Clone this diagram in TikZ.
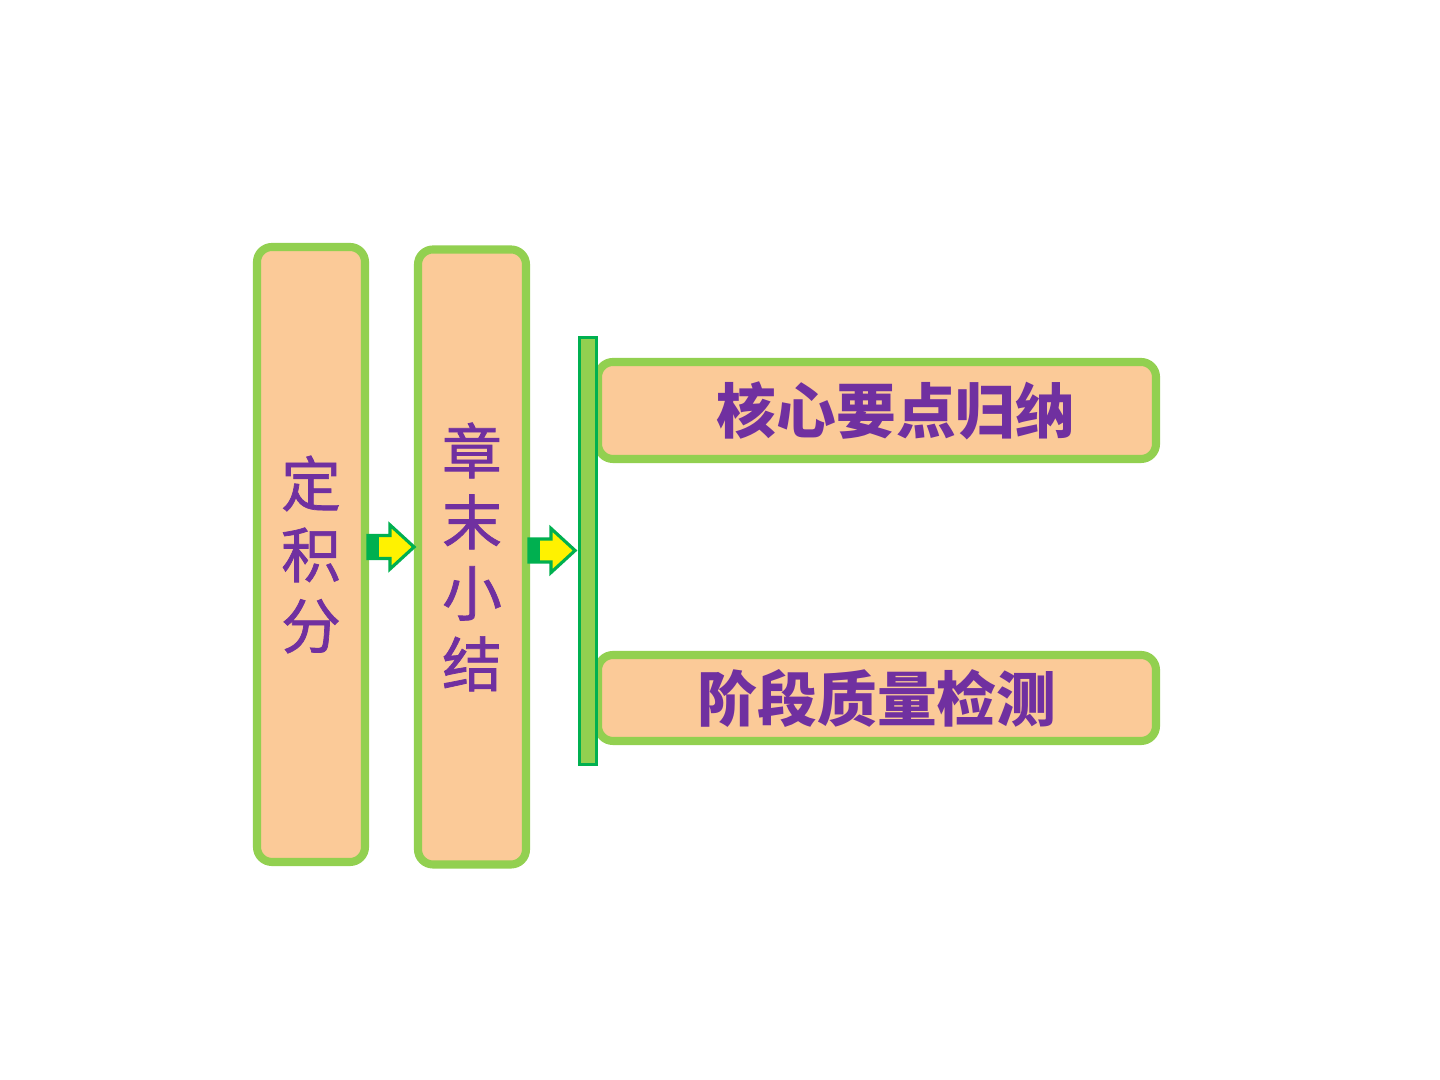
\documentclass[tikz,border=0pt]{standalone}
\usepackage{fontspec}
\setmainfont{Noto Sans CJK SC}
\newfontfamily\cjkmid[FakeBold=1.2]{Noto Sans CJK SC}
\usetikzlibrary{calc,positioning}

\definecolor{peach}{HTML}{FBCA98}
\definecolor{leafgreen}{HTML}{92D050}
\definecolor{dkgreen}{HTML}{00B050}
\definecolor{textpurple}{HTML}{7030A0}

\begin{document}
\begin{tikzpicture}[
  block/.style={rectangle, rounded corners=0.15cm, draw=leafgreen, line width=2.3pt,
    fill=peach, text=textpurple, inner sep=0pt},
  tall/.style={minimum width=1.08cm, minimum height=6.15cm, align=center,
    font=\fontsize{17pt}{20.2pt}\cjkmid},
  wide/.style={minimum width=5.58cm, font=\fontsize{17pt}{20.2pt}\selectfont\bfseries},
  pics/fatarrow/.style={code={
    \filldraw[fill=yellow, draw=dkgreen, line width=0.9pt]
      (0,-0.115) -- (0.22,-0.115) -- (0.22,-0.22) -- (0.46,0) -- (0.22,0.22)
      -- (0.22,0.115) -- (0,0.115) -- cycle;
    \fill[dkgreen] (0,-0.115) rectangle (0.11,0.115);
  }}
  ]
  \fill[white] (0,0) rectangle (14.4,10.8);
  \useasboundingbox (0,0) rectangle (14.4,10.8);

  \node[block, tall] (defin) at (3.11,5.255) {定\\积\\分};
  \node[block, tall] (summary) at (4.72,5.23) {章\\末\\小\\结};
  \node[block, wide, minimum height=0.97cm] (core) at (8.77,6.695) {\hspace{0.38cm}核心要点归纳};
  \node[block, wide, minimum height=0.86cm] (test) at (8.77,3.82) {阶段质量检测};

  \node[rectangle, draw=dkgreen, fill=leafgreen, line width=0.85pt, inner sep=0pt,
    minimum width=0.17cm, minimum height=4.27cm] (bar) at (5.88,5.29) {};

  \pic at ($(defin.east)+(-0.01,0.075)$) {fatarrow};
  \pic at ($(summary.east)+(-0.01,0.065)$) {fatarrow};
\end{tikzpicture}
\end{document}
